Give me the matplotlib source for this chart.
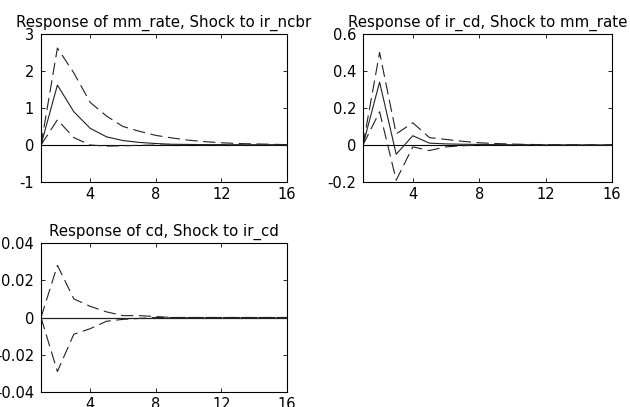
import matplotlib
matplotlib.use("Agg")
import matplotlib.pyplot as plt
import numpy as np

plt.rcParams['font.family'] = ['DejaVu Sans']

periods = list(range(1, 17))

titles = ["Response of mm_rate, Shock to ir_ncbr",
          "Response of ir_cd, Shock to mm_rate",
          "Response of cd, Shock to ir_cd"]

# panel 1
p1_mean = [0.0, 1.62, 0.90, 0.45, 0.22, 0.12, 0.07, 0.04, 0.02, 0.015, 0.01, 0.01, 0.005, 0.005, 0.003, 0.002]
p1_upper = [0.0, 2.62, 1.95, 1.15, 0.78, 0.50, 0.37, 0.26, 0.19, 0.13, 0.09, 0.06, 0.04, 0.03, 0.02, 0.01]
p1_lower = [0.0, 0.68, 0.20, 0.0, -0.03, -0.02, -0.01, 0.0, 0.0, 0.0, 0.0, 0.0, 0.0, 0.0, 0.0, 0.0]

# panel 2
p2_mean = [0.0, 0.34, -0.05, 0.05, 0.01, 0.006, 0.004, 0.003, 0.002, 0.001, 0.001, 0.0, 0.0, 0.0, 0.0, 0.0]
p2_upper = [0.0, 0.50, 0.06, 0.12, 0.04, 0.03, 0.02, 0.012, 0.008, 0.005, 0.003, 0.002, 0.001, 0.001, 0.0, 0.0]
p2_lower = [0.0, 0.18, -0.19, -0.01, -0.03, -0.01, -0.004, 0.0, 0.0, 0.0, 0.0, 0.0, 0.0, 0.0, 0.0, 0.0]

# panel 3
p3_mean = [0.0] * 16
p3_upper = [0.0, 0.028, 0.010, 0.006, 0.003, 0.001, 0.001, 0.0005, 0.0, 0.0, 0.0, 0.0, 0.0, 0.0, 0.0, 0.0]
p3_lower = [0.0, -0.029, -0.009, -0.006, -0.002, -0.001, -0.0005, 0.0, 0.0, 0.0, 0.0, 0.0, 0.0, 0.0, 0.0, 0.0]

ylims = [(-1, 3), (-0.2, 0.6), (-0.04, 0.04)]
yticks = [[-1, 0, 1, 2, 3], [-0.2, 0, 0.2, 0.4, 0.6], [-0.04, -0.02, 0, 0.02, 0.04]]
yticklabels = [["-1", "0", "1", "2", "3"],
               ["-0.2", "0", "0.2", "0.4", "0.6"],
               ["-0.04", "-0.02", "0", "0.02", "0.04"]]
xticks = [4, 8, 12, 16]

series = [(p1_mean, p1_upper, p1_lower),
          (p2_mean, p2_upper, p2_lower),
          (p3_mean, p3_upper, p3_lower)]

W, H = 630, 407
fig = plt.figure(figsize=(W / 100, H / 100), dpi=100)
boxes = [(41, 34, 287, 182), (363, 34, 612, 182), (41, 243, 287, 392)]

for i, (l, t, r, b) in enumerate(boxes):
    ax = fig.add_axes([l / W, 1 - b / H, (r - l) / W, (b - t) / H])
    m, u, lo = series[i]
    ax.axhline(0, color='black', lw=0.8)
    ax.plot(periods, m, color='#222222', lw=0.8)
    ax.plot(periods, u, color='#222222', lw=0.8, dashes=(11, 5))
    ax.plot(periods, lo, color='#222222', lw=0.8, dashes=(11, 5))
    ax.set_xlim(1, 16)
    ax.set_ylim(*ylims[i])
    ax.set_xticks(xticks)
    ax.set_xticklabels([str(x) for x in xticks])
    ax.set_yticks(yticks[i])
    ax.set_yticklabels(yticklabels[i])
    ax.tick_params(direction='in', top=True, right=True, length=3, width=0.6,
                   labelsize=10.5)
    ax.tick_params(axis='x', pad=3.5)
    ax.tick_params(axis='y', pad=5)
    for s in ax.spines.values():
        s.set_linewidth(0.8)
    ax.set_title(titles[i], fontsize=10.8, pad=5)

fig.savefig("out.png", dpi=100)
